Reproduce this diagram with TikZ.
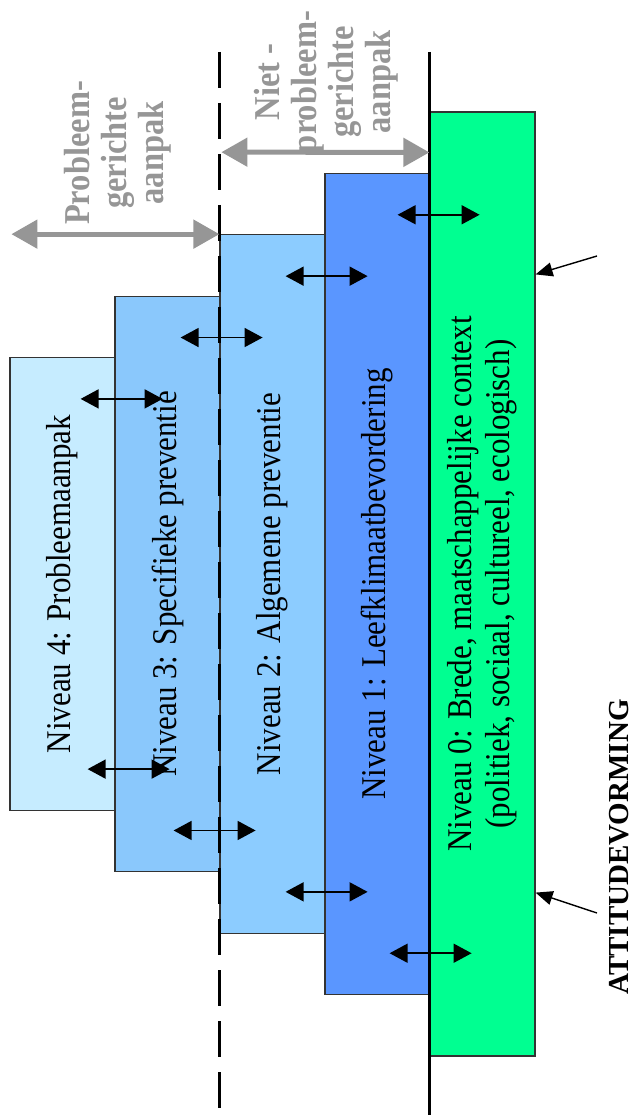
\documentclass[tikz,border=0pt]{standalone}
\usepackage{fontspec}
\setmainfont{Liberation Serif}
\usetikzlibrary{arrows.meta}
\usetikzlibrary{positioning}
\usetikzlibrary{calc}

\definecolor{lvlzero}{RGB}{0,255,145}
\definecolor{lvlone}{RGB}{90,150,255}
\definecolor{lvltwo}{RGB}{140,204,255}
\definecolor{lvlthree}{RGB}{138,200,252}
\definecolor{lvlfour}{RGB}{198,236,255}
\definecolor{approachgray}{RGB}{150,150,150}

\tikzset{
  level/.style={draw=black!80, line width=1.2pt, minimum width=105pt, inner sep=0pt},
  lvltext/.style={rotate=90, yscale=1.12, align=center, font=\fontsize{31}{34}\selectfont},
  approach/.style={rotate=90, yscale=1.12, align=center, text=approachgray, font=\bfseries\fontsize{32.5}{33}\selectfont},
  attitude/.style={rotate=90, anchor=south, inner sep=0pt, font=\bfseries\fontsize{29}{34}\selectfont},
  divider/.style={line width=3.5pt},
  span/.style={draw=approachgray, line width=5pt, {Triangle[length=26pt,width=28pt]}-{Triangle[length=26pt,width=28pt]}},
  dbl/.style={line width=1.6pt, {Triangle[length=18pt,width=19pt]}-{Triangle[length=18pt,width=19pt]}},
  pointer/.style={line width=1.4pt, -{Triangle[length=17pt,width=14pt]}}
}

\begin{document}
\begin{tikzpicture}[x=1pt,y=-1pt]
  \useasboundingbox (0,0) rectangle (633,1115);

  % Levels
  \foreach \i/\xc/\col in {0/482.5/lvlzero,1/377.5/lvlone,2/272.5/lvltwo,3/167.5/lvlthree,4/62.5/lvlfour}{
    \node[level, fill=\col, minimum height={944-122.75*\i}] (n\i) at (\xc,584) {};
  }

  % Level texts
  \node[lvltext] (t4) at (n4) {Niveau 4: Probleemaanpak};
  \node[lvltext] (t3) at (n3) {Niveau 3: Specifieke preventie};
  \node[lvltext] (t2) at (n2) {Niveau 2: Algemene preventie};
  \node[lvltext] (t1) at (n1) {Niveau 1: Leefklimaatbevordering};
  \node[lvltext] (t0) at (n0) {Niveau 0: Brede, maatschappelijke context\\(politiek, sociaal, cultureel, ecologisch)};

  % Dividing lines
  \coordinate (top) at (0,52);
  \coordinate (bottom) at (0,1115);
  \draw[divider, dash pattern=on 36pt off 15pt] (n2.north west |- top) -- (n2.north west |- bottom);
  \draw[divider] (n0.north west |- top) -- (n0.north west |- bottom);

  % Approaches
  \draw[span] (n2.north west) -- ++(-208,0);
  \draw[span] ($(n2.north west)+(2,-82)$) -- ($(n0.north west)+(0,41)$);
  \node[approach] (pga) at (118,153) {Probleem-\\gerichte\\aanpak};
  \node[approach] (npga) at (326,82) {Niet -\\probleem-\\gerichte\\aanpak};

  % Interactions between levels
  \foreach \k/\dt/\db in {0/8/0,1/1/1,2/1/-6,3/6/13}{
    \pgfmathtruncatemacro{\j}{\k+1}
    \draw[dbl] ($(n\j.north east)+(\dt-41,42)$) -- ++(82,0);
    \draw[dbl] ($(n\j.south east)+(\db-41,-42)$) -- ++(82,0);
  }

  % Attitude forming
  \node[attitude] (att) at (629,847) {ATTITUDEVORMING};
  \coordinate (ptop) at (597,256);
  \coordinate (pbot) at (597,913);
  \draw[pointer] (ptop) -- ([yshift=-163pt]n0.north east);
  \draw[pointer] (pbot) -- ([yshift=164pt]n0.south east);
\end{tikzpicture}
\end{document}
